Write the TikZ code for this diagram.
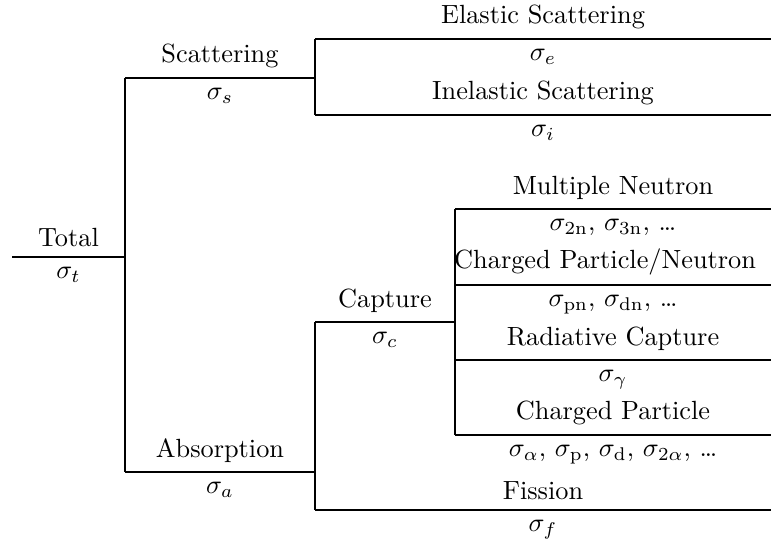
\documentclass[tikz,border=0pt]{standalone}
\begin{document}
\begin{tikzpicture}[x=0.38pt,y=-0.38pt,
  branch/.style={line width=0.8pt},
  toplbl/.style={midway,above},
  botlbl/.style={midway,below}]
\useasboundingbox (0,0) rectangle (771,544);
% junction coordinates
\coordinate (t0) at (12,257);  \coordinate (t1) at (125,257);
\coordinate (s0) at (125,78);  \coordinate (s1) at (315,78);
\coordinate (a0) at (125,472); \coordinate (a1) at (315,472);
\coordinate (e0) at (315,39);  \coordinate (e1) at (771,39);
\coordinate (i0) at (315,115); \coordinate (i1) at (771,115);
\coordinate (c0) at (315,322); \coordinate (c1) at (455,322);
\coordinate (f0) at (315,510); \coordinate (f1) at (771,510);
\coordinate (m0) at (455,209); \coordinate (m1) at (771,209);
\coordinate (p0) at (455,285); \coordinate (p1) at (771,285);
\coordinate (r0) at (455,360); \coordinate (r1) at (771,360);
\coordinate (q0) at (455,435); \coordinate (q1) at (771,435);
% verticals
\draw[branch] (s0) -- (a0);
\draw[branch] (e0) -- (i0);
\draw[branch] (c0) -- (f0);
\draw[branch] (m0) -- (q0);
% horizontals with labels
\draw[branch] (t0) -- (t1) node[toplbl] (lt) {Total} node[botlbl] (st) {$\sigma_t$};
\draw[branch] (s0) -- (s1) node[toplbl] (ls) {Scattering} node[botlbl] (ss) {$\sigma_s$};
\draw[branch] (a0) -- (a1) node[toplbl] (la) {Absorption} node[botlbl] (sa) {$\sigma_a$};
\draw[branch] (e0) -- (e1) node[toplbl] (le) {Elastic Scattering} node[botlbl] (se) {$\sigma_e$};
\draw[branch] (i0) -- (i1) node[toplbl] (li) {Inelastic Scattering} node[botlbl] (si) {$\sigma_i$};
\draw[branch] (c0) -- (c1) node[toplbl] (lc) {Capture} node[botlbl] (sc) {$\sigma_c$};
\draw[branch] (f0) -- (f1) node[toplbl] (lf) {Fission} node[botlbl] (sf) {$\sigma_f$};
\draw[branch] (m0) -- (m1) node[toplbl] (lm) {Multiple Neutron} node[botlbl] (sm) {$\sigma_{2\mathrm{n}}$, $\sigma_{3\mathrm{n}}$, \ldots};
\draw[branch] (p0) -- (p1) node[toplbl,xshift=-3pt] (lp) {Charged Particle/Neutron} node[botlbl] (sp) {$\sigma_{\mathrm{pn}}$, $\sigma_{\mathrm{dn}}$, \ldots};
\draw[branch] (r0) -- (r1) node[toplbl] (lr) {Radiative Capture} node[botlbl] (sr) {$\sigma_\gamma$};
\draw[branch] (q0) -- (q1) node[toplbl] (lq) {Charged Particle} node[botlbl] (sq) {$\sigma_\alpha$, $\sigma_{\mathrm{p}}$, $\sigma_{\mathrm{d}}$, $\sigma_{2\alpha}$, \ldots};
\end{tikzpicture}
\end{document}
